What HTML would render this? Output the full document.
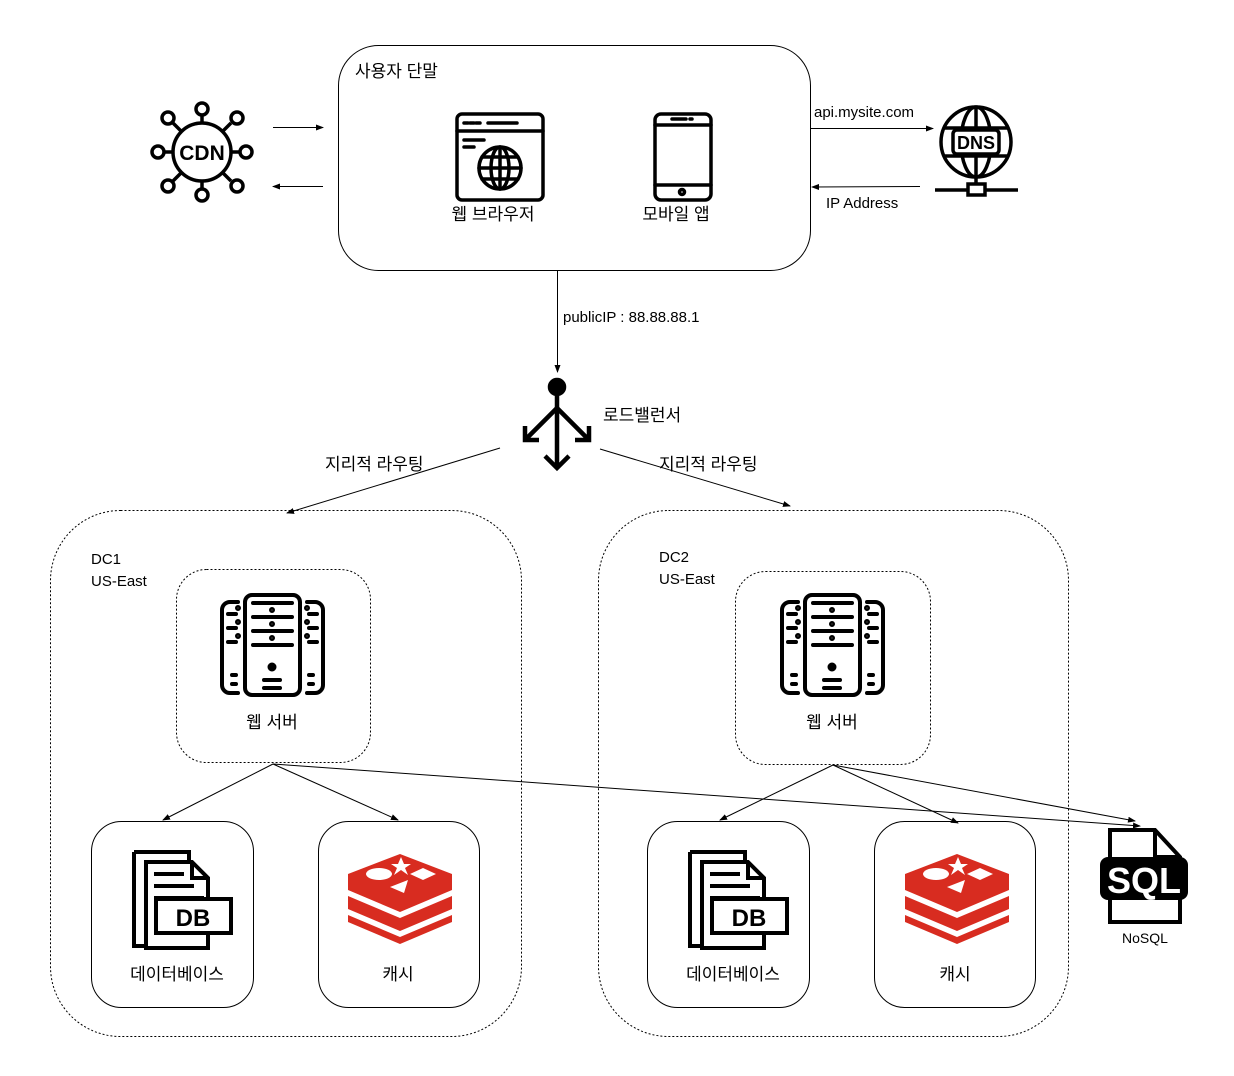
<!DOCTYPE html>
<html><head><meta charset="utf-8"><style>
html,body{margin:0;padding:0;background:#fff;}
svg{display:block;}
text{font-family:"Liberation Sans","Noto Sans CJK KR",sans-serif;fill:#000;}
</style></head><body>
<svg width="1234" height="1076" viewBox="0 0 1234 1076" xmlns="http://www.w3.org/2000/svg">
<defs>
<marker id="ah" markerWidth="8" markerHeight="6" refX="7" refY="3" orient="auto" markerUnits="userSpaceOnUse">
<path d="M0,0 L8,3 L0,6 z" fill="#000"/></marker>
<g id="server" fill="none" stroke="#000" stroke-width="4" stroke-linecap="round">
<rect x="245" y="595" width="55" height="100" rx="7"/>
<path d="M245,602 v0 M238,602 h-8 a8,8 0 0 0 -8,8 v75 a8,8 0 0 0 8,8 h8 M307,602 h8 a8,8 0 0 1 8,8 v75 a8,8 0 0 1 -8,8 h-8"/>
<path d="M253,603 h39 M253,617 h39 M253,631 h39 M253,645 h39 M264,688 h16 M264,680 h16"/>
<path d="M228,614 h8 M228,628 h8 M228,642 h8 M309,614 h8 M309,628 h8 M309,642 h8 M232,675 h4 M232,684 h4 M309,675 h4 M309,684 h4"/>
<circle cx="272" cy="667" r="2.5" fill="#000"/>
<circle cx="272" cy="610" r="1" fill="#000"/><circle cx="272" cy="624" r="1" fill="#000"/><circle cx="272" cy="638" r="1" fill="#000"/>
<circle cx="238" cy="608" r="1" fill="#000"/><circle cx="238" cy="622" r="1" fill="#000"/><circle cx="238" cy="636" r="1" fill="#000"/>
<circle cx="307" cy="608" r="1" fill="#000"/><circle cx="307" cy="622" r="1" fill="#000"/><circle cx="307" cy="636" r="1" fill="#000"/>
</g>
<g id="db" fill="#fff" stroke="#000" stroke-width="4">
<path d="M134,852 h55 v12 M134,852 v94 h12"/>
<path d="M146,862 h46 l16,16 v70 h-62 z"/>
<path d="M192,862 v16 h16" fill="none"/>
<path d="M154,874 h30 M154,886 h40 M154,898 h50" fill="none"/>
<rect x="156" y="899" width="75" height="34"/>
<text x="193" y="926" font-size="24" font-weight="bold" text-anchor="middle" stroke="none" fill="#000" font-family="Liberation Mono, monospace">DB</text>
</g>
<g id="redis" fill="#d82c20">
<polygon points="348,874 400,854 452,874 452,890 400,912 348,890"/>
<polygon points="348,896 400,918 452,896 452,909 400,931 348,909"/>
<polygon points="348,915 400,937 452,915 452,922 400,944 348,922"/>
<ellipse cx="379" cy="874" rx="13" ry="6" fill="#fff"/>
<polygon points="401,857 404,864 411,864 405,868 408,875 401,870 394,875 397,868 391,864 398,864" fill="#fff"/>
<polygon points="410,874 423,868 436,874 423,880" fill="#fff"/>
<polygon points="390,887 408,880 404,893" fill="#fff"/>
</g>
</defs>

<!-- top terminal box -->
<rect x="338.5" y="45.5" width="472" height="225" rx="40" fill="none" stroke="#000" stroke-width="1"/>
<text x="355" y="77" font-size="17">사용자 단말</text>

<!-- browser -->
<g fill="none" stroke="#000" stroke-width="3.5" stroke-linecap="round">
<rect x="457" y="114" width="86" height="86" rx="5"/>
<path d="M457,131 h86 M464,123 h4 M470,123 h4 M476,123 h4 M488,123 h29 M464,140 h20 M464,147 h10"/>
<circle cx="500" cy="168" r="21"/>
<ellipse cx="500" cy="168" rx="9" ry="21"/>
<path d="M479,168 h42 M482,157 h36 M482,179 h36 M500,147 v42"/>
</g>
<text x="493" y="220" font-size="17" text-anchor="middle">웹 브라우저</text>

<!-- mobile -->
<g fill="none" stroke="#000" stroke-width="3.5" stroke-linecap="round">
<rect x="655" y="114" width="56" height="86" rx="6"/>
<path d="M655,125 h56 M655,185 h56 M672,119 h14 M690,119 h2"/>
<circle cx="682" cy="192" r="2.5"/>
</g>
<text x="676" y="220" font-size="17" text-anchor="middle">모바일 앱</text>

<!-- CDN -->
<g fill="none" stroke="#000" stroke-width="3.5">
<circle cx="202" cy="152" r="29"/>
<path d="M202,123 v-9 M202,181 v9 M173,152 h-8 M231,152 h8 M181,131 l-8,-8 M223,131 l8,-8 M181,173 l-8,8 M223,173 l8,8"/>
<circle cx="202" cy="109" r="6"/><circle cx="202" cy="195" r="6"/>
<circle cx="158" cy="152" r="6"/><circle cx="246" cy="152" r="6"/>
<circle cx="168" cy="118" r="6"/><circle cx="237" cy="118" r="6"/>
<circle cx="168" cy="186" r="6"/><circle cx="237" cy="186" r="6"/>
</g>
<text x="202" y="160" font-size="21" font-weight="bold" text-anchor="middle">CDN</text>
<line x1="273" y1="127.5" x2="323" y2="127.5" stroke="#000" marker-end="url(#ah)"/>
<line x1="323" y1="186.5" x2="273" y2="186.5" stroke="#000" marker-end="url(#ah)"/>

<!-- DNS -->
<text x="814" y="117" font-size="15">api.mysite.com</text>
<line x1="811" y1="128.5" x2="933" y2="128.5" stroke="#000" marker-end="url(#ah)"/>
<text x="826" y="208" font-size="15">IP Address</text>
<line x1="920" y1="186.5" x2="812" y2="187" stroke="#000" marker-end="url(#ah)"/>
<g fill="none" stroke="#000" stroke-width="3.5">
<circle cx="976" cy="142" r="35"/>
<ellipse cx="976" cy="142" rx="15" ry="35"/>
<path d="M944,128 h64 M944,156 h64 M976,107 v23 M976,154 v23"/>
<path d="M976,177 v7 M935,190 h33 M985,190 h33"/>
<rect x="968" y="184" width="17" height="11"/>
</g>
<rect x="953" y="130" width="46" height="24" rx="4" fill="#fff" stroke="#000" stroke-width="3.5"/>
<text x="976" y="149" font-size="18" font-weight="bold" text-anchor="middle">DNS</text>

<!-- publicIP -->
<line x1="557.5" y1="270" x2="557.5" y2="372" stroke="#000" marker-end="url(#ah)"/>
<text x="563" y="322" font-size="15">publicIP : 88.88.88.1</text>

<!-- load balancer -->
<g fill="none" stroke="#000" stroke-width="4.5">
<circle cx="557" cy="387" r="7" fill="#000"/>
<path d="M557,393 v73 M545,456 l12,12 l12,-12"/>
<path d="M557,408 l-30,30 M525,426 v14 h14"/>
<path d="M557,408 l30,30 M589,426 v14 h-14"/>
</g>
<text x="603" y="421" font-size="17">로드밸런서</text>

<line x1="500" y1="448" x2="287" y2="513" stroke="#000" marker-end="url(#ah)"/>
<line x1="600" y1="449" x2="790" y2="506" stroke="#000" marker-end="url(#ah)"/>
<text x="325" y="470" font-size="17">지리적 라우팅</text>
<text x="659" y="470" font-size="17">지리적 라우팅</text>

<!-- DC boxes -->
<rect x="50.5" y="510.5" width="471" height="526" rx="70" fill="none" stroke="#000" stroke-dasharray="2,2"/>
<rect x="598.5" y="510.5" width="470" height="526" rx="70" fill="none" stroke="#000" stroke-dasharray="2,2"/>
<text x="91" y="564" font-size="15">DC1</text><text x="91" y="586" font-size="15">US-East</text>
<text x="659" y="562" font-size="15">DC2</text><text x="659" y="584" font-size="15">US-East</text>

<rect x="176.5" y="569.5" width="194" height="193" rx="30" fill="none" stroke="#000" stroke-dasharray="2,2"/>
<rect x="735.5" y="571.5" width="195" height="193" rx="30" fill="none" stroke="#000" stroke-dasharray="2,2"/>
<use href="#server"/>
<use href="#server" transform="translate(560,0)"/>
<text x="272" y="728" font-size="17" text-anchor="middle">웹 서버</text>
<text x="832" y="728" font-size="17" text-anchor="middle">웹 서버</text>

<!-- connectors -->
<g stroke="#000" fill="none">
<line x1="273" y1="764" x2="163" y2="820" marker-end="url(#ah)"/>
<line x1="273" y1="764" x2="398" y2="820" marker-end="url(#ah)"/>
<line x1="273" y1="764" x2="1140" y2="826" marker-end="url(#ah)"/>
<line x1="833" y1="765" x2="720" y2="820" marker-end="url(#ah)"/>
<line x1="833" y1="765" x2="958" y2="823" marker-end="url(#ah)"/>
<line x1="833" y1="765" x2="1135" y2="821" marker-end="url(#ah)"/>
</g>

<!-- DB & cache boxes -->
<rect x="91.5" y="821.5" width="162" height="186" rx="30" fill="none" stroke="#000"/>
<rect x="318.5" y="821.5" width="161" height="186" rx="30" fill="none" stroke="#000"/>
<rect x="647.5" y="821.5" width="162" height="186" rx="30" fill="none" stroke="#000"/>
<rect x="874.5" y="821.5" width="161" height="186" rx="30" fill="none" stroke="#000"/>
<use href="#db"/>
<use href="#db" transform="translate(556,0)"/>
<use href="#redis"/>
<use href="#redis" transform="translate(557,0)"/>
<text x="177" y="980" font-size="17" text-anchor="middle">데이터베이스</text>
<text x="398" y="980" font-size="17" text-anchor="middle">캐시</text>
<text x="733" y="980" font-size="17" text-anchor="middle">데이터베이스</text>
<text x="955" y="980" font-size="17" text-anchor="middle">캐시</text>

<!-- SQL -->
<g fill="none" stroke="#000" stroke-width="4">
<path d="M1110,830 h45 l25,27 v65 h-70 z"/>
<path d="M1155,830 v27 h25"/>
</g>
<rect x="1100" y="857" width="88" height="43" rx="8" fill="#000"/>
<text x="1144" y="893" font-size="36" font-weight="bold" text-anchor="middle" fill="#fff" style="fill:#fff">SQL</text>
<text x="1145" y="943" font-size="14" text-anchor="middle">NoSQL</text>
</svg>
</body></html>
